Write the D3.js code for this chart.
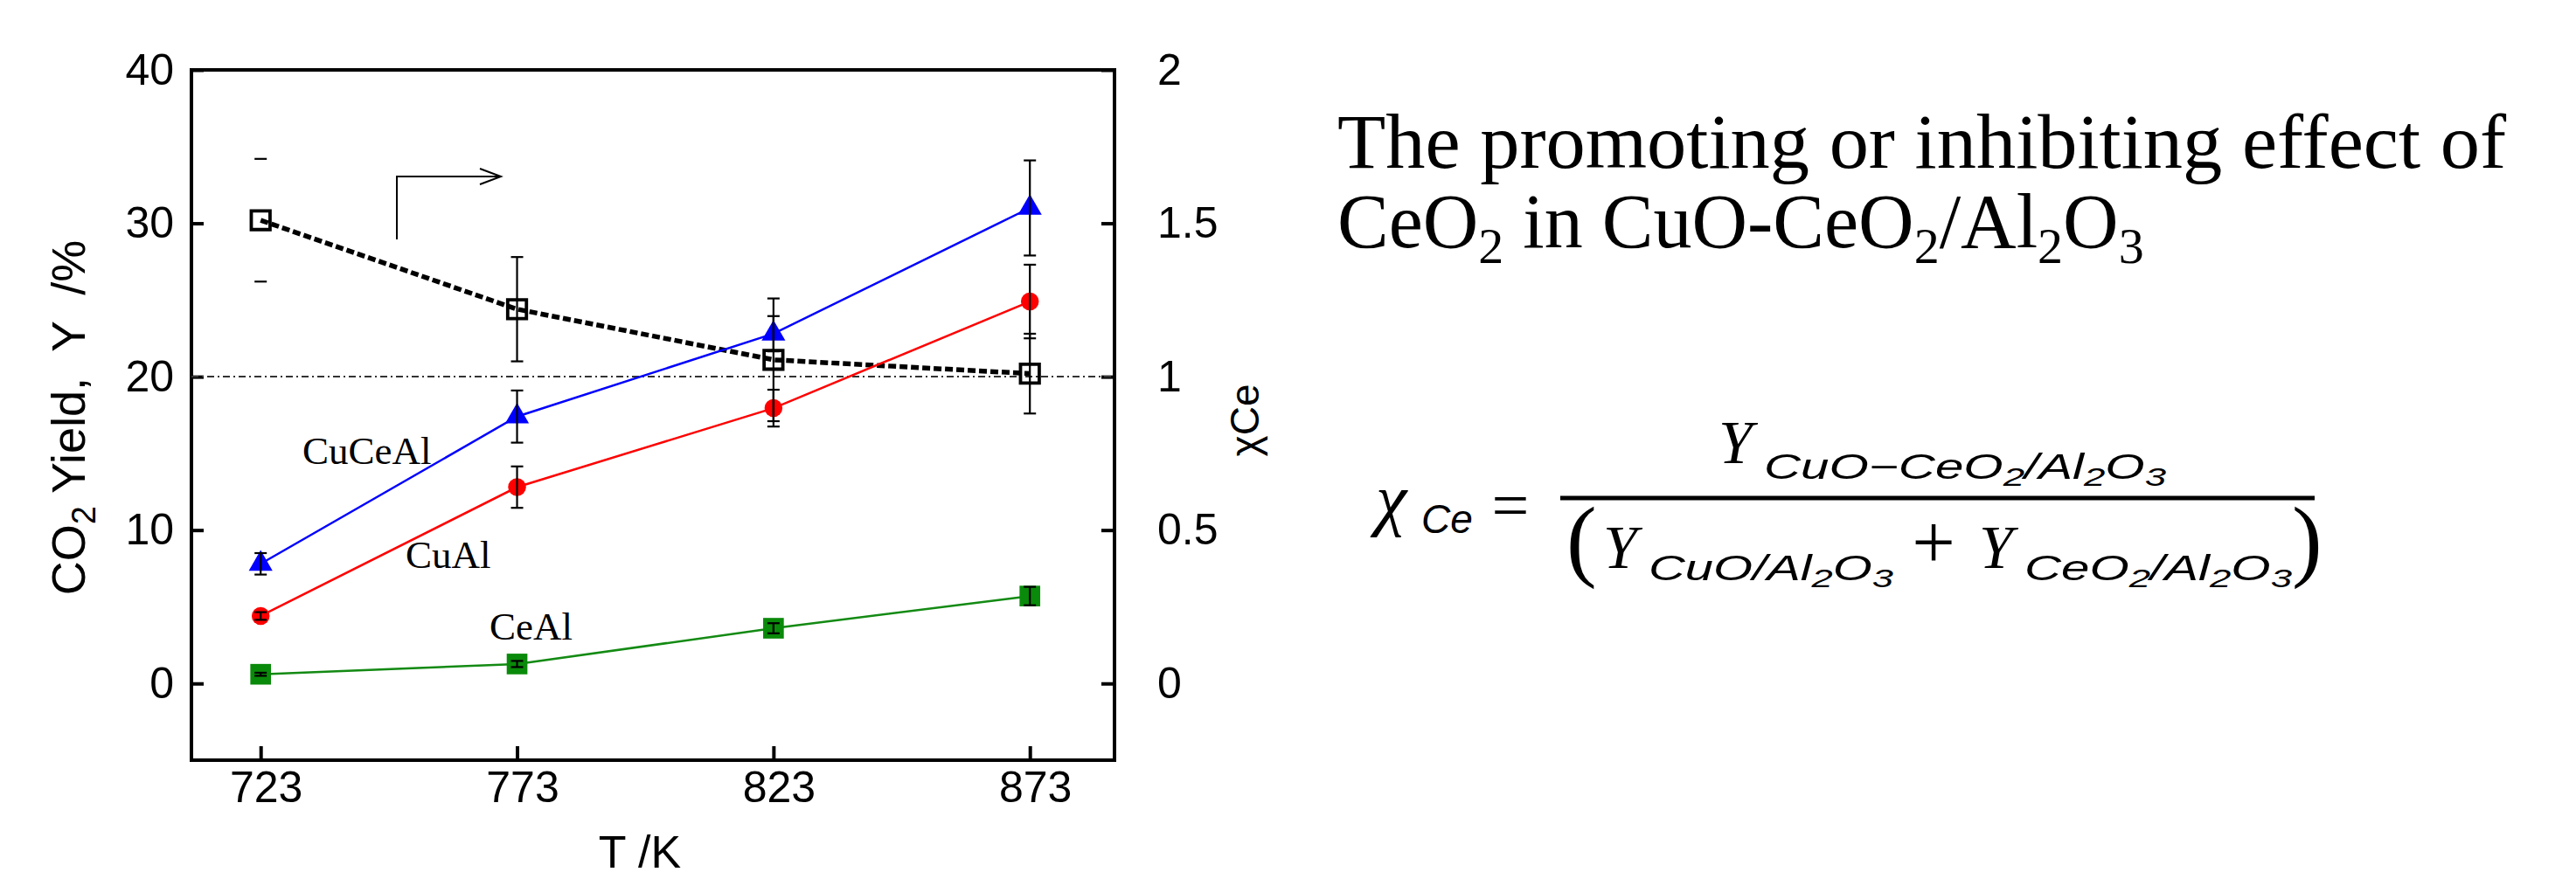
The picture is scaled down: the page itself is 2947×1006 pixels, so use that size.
<!DOCTYPE html>
<html><head><meta charset="utf-8">
<script src="https://cdn.jsdelivr.net/npm/d3@7"></script>
<style>
html,body{margin:0;padding:0;background:#fff;}
svg{display:block;}
text{white-space:pre;}
</style></head><body>
<svg id="chart" width="2947" height="1006"></svg>
<script>
// Reaction temperature (K)
const temperatures = [723, 773, 823, 873];
// CO2 yield (%) with error half-widths
const yieldCuCeAl = [7.8, 17.4, 22.8, 31.0];
const errCuCeAl = [0.7, 1.7, 1.15, 3.1];
const yieldCuAl = [4.4, 12.8, 17.95, 24.9];
const errCuAl = [0.25, 1.35, 1.2, 2.4];
const yieldCeAl = [0.6, 1.27, 3.6, 5.7];
const errCeAl = [0.1, 0.2, 0.33, 0.6];
// Synergy factor chi_Ce (right axis) with error half-widths
const chiCe = [1.51, 1.22, 1.055, 1.01];
const errChiCe = [0.2, 0.17, 0.2, 0.13];
const chiStemShown = [false, true, true, true];
// Axis ticks
const leftTicks = [0, 10, 20, 30, 40];
const rightTicks = [0, 0.5, 1, 1.5, 2];
const seriesLabels = ["CuCeAl", "CuAl", "CeAl"];

const svg = d3.select("#chart");
svg.append("rect").attr("width", 2947).attr("height", 1006).attr("fill", "#fff");

const L = 219, R = 1275, T = 80, B = 870;
const x = d3.scaleLinear().domain([709.5, 889.5]).range([L, R]);
const y = d3.scaleLinear().domain([-5, 40]).range([B, T]);
const y2 = d3.scaleLinear().domain([-0.25, 2]).range([B, T]);

const sans = "'Liberation Sans', Arial, sans-serif";
const serif = "'Liberation Serif', 'Times New Roman', serif";

// Axes with inward ticks
const axisStyle = g => {
  g.select(".domain").remove();
  g.selectAll(".tick line").attr("stroke", "#000").attr("stroke-width", 4);
  g.selectAll(".tick text").attr("font-family", sans).attr("font-size", 50).attr("fill", "#000");
};
svg.append("g").attr("transform", `translate(${L},0)`)
  .call(d3.axisLeft(y).tickValues(leftTicks).tickSize(-14).tickPadding(20).tickFormat(d3.format("~g")))
  .call(axisStyle);
svg.append("g").attr("transform", `translate(${R},0)`)
  .call(d3.axisRight(y2).tickValues(rightTicks).tickSize(-15).tickPadding(49).tickFormat(d3.format("~g")))
  .call(axisStyle);
svg.append("g").attr("transform", `translate(0,${B})`)
  .call(d3.axisBottom(x).tickValues(temperatures).tickSize(-16).tickPadding(12).tickFormat(d3.format("d")))
  .call(axisStyle)
  .call(g => g.selectAll(".tick text").attr("dx", 6));

// Plot frame
svg.append("rect").attr("x", L).attr("y", T).attr("width", R - L).attr("height", B - T)
  .attr("fill", "none").attr("stroke", "#000").attr("stroke-width", 4);

// Axis titles
const yl = svg.append("text").attr("transform", "translate(97,478) rotate(-90)")
  .attr("text-anchor", "middle").attr("font-family", sans).attr("font-size", 54).attr("fill", "#000");
yl.append("tspan").text("CO");
yl.append("tspan").attr("font-size", 38).attr("dy", 12).text("2");
yl.append("tspan").attr("dy", -12).text(" Yield,  Y  /%");

svg.append("text").attr("transform", "translate(1440,481) rotate(-90)")
  .attr("text-anchor", "middle").attr("font-family", sans).attr("font-size", 46).attr("fill", "#000")
  .text("χCe");

svg.append("text").attr("x", 732).attr("y", 993).attr("text-anchor", "middle")
  .attr("font-family", sans).attr("font-size", 52).attr("fill", "#000").text("T /K");

// Reference line at chi = 1
svg.append("line").attr("x1", L).attr("x2", R).attr("y1", y2(1)).attr("y2", y2(1))
  .attr("stroke", "#333").attr("stroke-width", 2).attr("stroke-dasharray", "8,4,2,4");

const plot = svg.append("g");
const line = (ys, sc) => d3.line().x((d, i) => x(temperatures[i])).y(d => sc(d))(ys);

// Series lines
plot.append("path").attr("d", line(chiCe, y2)).attr("fill", "none").attr("stroke", "#000")
  .attr("stroke-width", 5.5).attr("stroke-dasharray", "9,4");
plot.append("path").attr("d", line(yieldCeAl, y)).attr("fill", "none").attr("stroke", "#138a13").attr("stroke-width", 2.5);
plot.append("path").attr("d", line(yieldCuAl, y)).attr("fill", "none").attr("stroke", "#ff0000").attr("stroke-width", 2.5);
plot.append("path").attr("d", line(yieldCuCeAl, y)).attr("fill", "none").attr("stroke", "#0000ff").attr("stroke-width", 2.5);

// Error bars
function errorBars(vals, errs, sc, stems) {
  const g = plot.append("g").attr("stroke", "#000").attr("stroke-width", 2.2);
  vals.forEach((v, i) => {
    const cx = x(temperatures[i]);
    const hi = sc(v + errs[i]), lo = sc(v - errs[i]);
    if (!stems || stems[i]) g.append("line").attr("x1", cx).attr("x2", cx).attr("y1", hi).attr("y2", lo);
    g.append("line").attr("x1", cx - 7).attr("x2", cx + 7).attr("y1", hi).attr("y2", hi);
    g.append("line").attr("x1", cx - 7).attr("x2", cx + 7).attr("y1", lo).attr("y2", lo);
  });
}

// Markers
function markers(vals, sc, type, size, fill, stroke, sw) {
  plot.append("g").selectAll("path").data(vals).join("path")
    .attr("transform", (d, i) => `translate(${x(temperatures[i])},${sc(d)})`)
    .attr("d", d3.symbol(type, size))
    .attr("fill", fill).attr("stroke", stroke).attr("stroke-width", sw);
}

markers(yieldCeAl, y, d3.symbolSquare, 560, "#0a8a0a", "none", 0);
errorBars(yieldCeAl, errCeAl, y);
markers(yieldCuAl, y, d3.symbolCircle, 330, "#ff0000", "none", 0);
markers(yieldCuCeAl, y, d3.symbolTriangle, 320, "#0000ff", "none", 0);
markers(chiCe, y2, d3.symbolSquare, 460, "none", "#000", 3.8);
errorBars(yieldCuAl, errCuAl, y);
errorBars(yieldCuCeAl, errCuCeAl, y);
errorBars(chiCe, errChiCe, y2, chiStemShown);

// Arrow pointing to the right axis
svg.append("path").attr("d", "M454,274 V202 H573 M549,193 L573,202 L549,211")
  .attr("fill", "none").attr("stroke", "#000").attr("stroke-width", 2);

// Series labels
const labelPos = [[346, 531], [464, 650], [560, 732]];
svg.append("g").selectAll("text").data(seriesLabels).join("text")
  .attr("x", (d, i) => labelPos[i][0]).attr("y", (d, i) => labelPos[i][1])
  .attr("font-family", serif).attr("font-size", 45).attr("fill", "#000").text(d => d);

// Title
svg.append("text").attr("x", 1530).attr("y", 192).attr("font-family", serif).attr("font-size", 88)
  .attr("textLength", 1337).attr("lengthAdjust", "spacingAndGlyphs")
  .text("The promoting or inhibiting effect of");
const t2 = svg.append("text").attr("x", 1530).attr("y", 283).attr("font-family", serif).attr("font-size", 88);
const subParts = [["CeO", 0], ["2", 1], [" in CuO-CeO", 0], ["2", 1], ["/Al", 0], ["2", 1], ["O", 0], ["3", 1]];
let prev = 0;
subParts.forEach(([s, sub]) => {
  const dy = (sub ? 18 : 0) - (prev ? 18 : 0);
  t2.append("tspan").attr("dy", dy).attr("font-size", sub ? 58 : 88).text(s);
  prev = sub;
});

// Definition of chi_Ce
const eq = svg.append("g").attr("fill", "#000");
const it = (xx, yy, s, size, fam, anchor) => eq.append("text").attr("x", xx).attr("y", yy)
  .attr("font-family", fam).attr("font-style", "italic").attr("font-size", size)
  .attr("text-anchor", anchor || "start").text(s);
it(1574, 598, "χ", 80, serif);
it(1626, 610, "Ce", 46, sans);
eq.append("text").attr("x", 1728).attr("y", 604).attr("text-anchor", "middle")
  .attr("font-family", serif).attr("font-size", 76).text("=");
eq.append("line").attr("x1", 1785).attr("x2", 2648).attr("y1", 570).attr("y2", 570)
  .attr("stroke", "#000").attr("stroke-width", 5);

function subscriptGroup(x0, base, parts, width) {
  const t = eq.append("text").attr("x", x0).attr("y", base).attr("font-family", sans)
    .attr("font-style", "italic").attr("font-size", 40)
    .attr("textLength", width).attr("lengthAdjust", "spacingAndGlyphs");
  let p = 0;
  parts.forEach(([s, sub]) => {
    t.append("tspan").attr("dy", (sub ? 8 : 0) - (p ? 8 : 0)).attr("font-size", sub ? 30 : 40).text(s);
    p = sub;
  });
}
it(1966, 530, "Y", 70, serif);
subscriptGroup(2018, 548, [["CuO−CeO", 0], ["2", 1], ["/Al", 0], ["2", 1], ["O", 0], ["3", 1]], 460);
eq.append("text").attr("x", 1792).attr("y", 652).attr("font-family", serif).attr("font-size", 104).text("(");
it(1834, 650, "Y", 70, serif);
subscriptGroup(1886, 664, [["CuO/Al", 0], ["2", 1], ["O", 0], ["3", 1]], 280);
eq.append("text").attr("x", 2212).attr("y", 650).attr("text-anchor", "middle")
  .attr("font-family", serif).attr("font-size", 88).text("+");
it(2264, 650, "Y", 70, serif);
subscriptGroup(2316, 664, [["CeO", 0], ["2", 1], ["/Al", 0], ["2", 1], ["O", 0], ["3", 1]], 306);
eq.append("text").attr("x", 2622).attr("y", 652).attr("font-family", serif).attr("font-size", 104).text(")");
</script>
</body></html>
